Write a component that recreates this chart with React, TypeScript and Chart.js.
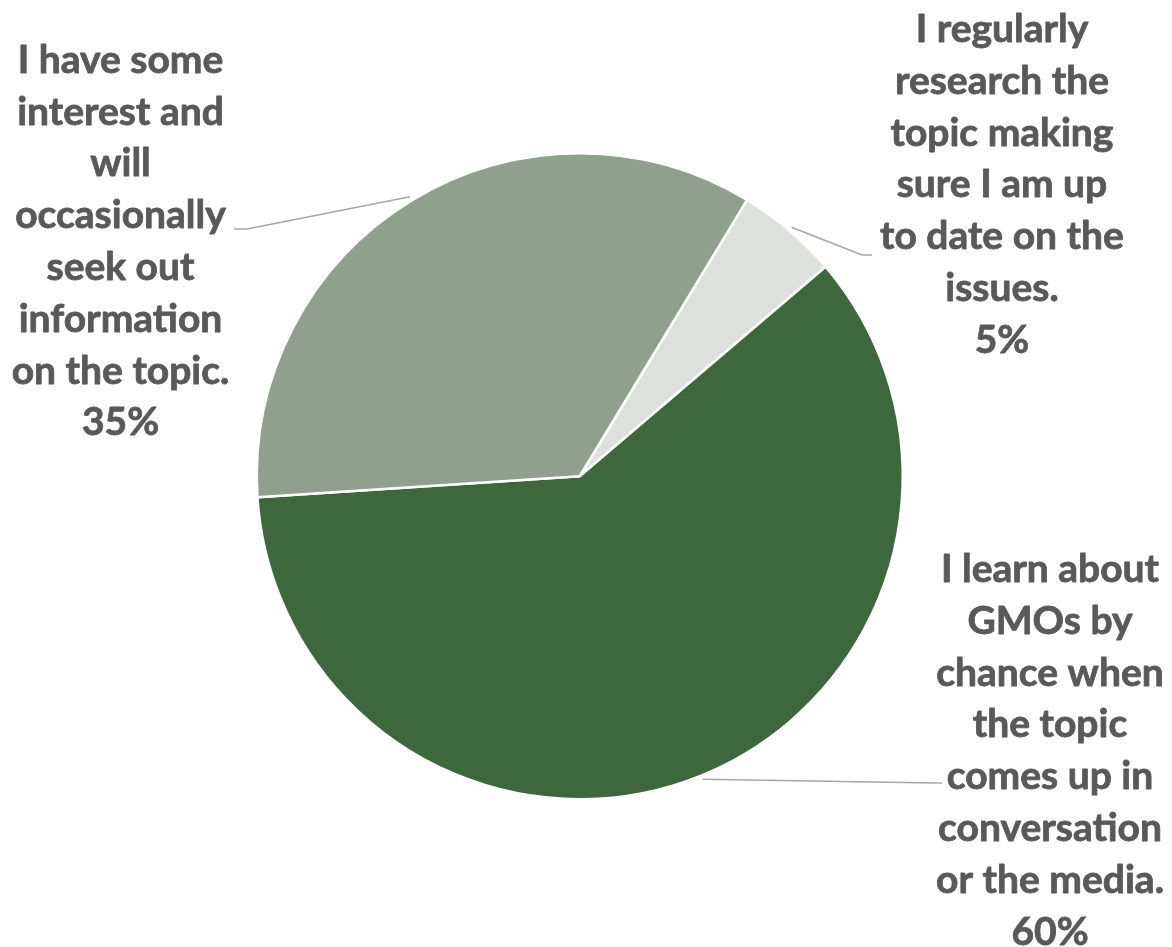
import React, { useEffect, useRef } from "react";
import { Chart, registerables } from "chart.js";

Chart.register(...registerables);

// ---- Data ----
const CATEGORIES = [
  "I regularly research the topic making sure I am up to date on the issues.",
  "I learn about GMOs by chance when the topic comes up in conversation or the media.",
  "I have some interest and will occasionally seek out information on the topic.",
];
const VALUES = [5.1, 60.2, 34.7];
const LABEL_LINES = [
  ["I regularly", "research the", "topic making", "sure I am up", "to date on the", "issues."],
  ["I learn about", "GMOs by", "chance when", "the topic", "comes up in", "conversation", "or the media."],
  ["I have some", "interest and", "will", "occasionally", "seek out", "information", "on the topic."],
];
const COLORS = ["#DCE1DB", "#3F673E", "#8FA08C"];

// ---- Layout (text placement, not data) ----
const LABEL_LAYOUT = [
  { cx: 1002, baseline: 42, elbow: [862, 255], end: [872, 255] },
  { cx: 1050, baseline: 582, elbow: [935, 783], end: [942, 783] },
  { cx: 120.5, baseline: 72.7, elbow: [247, 229], end: [234, 229] },
];
const LINE_HEIGHT = 51.8;
const FONT = "bold 39px Lato";
const TEXT_COLOR = "#595959";

const labelPlugin = {
  id: "outsideLabels",
  afterDatasetsDraw(chart: any) {
    const ctx = chart.ctx;
    const meta = chart.getDatasetMeta(0);
    const total = VALUES.reduce((a, b) => a + b, 0);
    ctx.save();
    meta.data.forEach((arc: any, i: number) => {
      const p = arc.getProps(["x", "y", "startAngle", "endAngle", "outerRadius"], true);
      const mid = (p.startAngle + p.endAngle) / 2;
      const r = p.outerRadius + 4;
      const sx = p.x + Math.cos(mid) * r;
      const sy = p.y + Math.sin(mid) * r;
      const L = LABEL_LAYOUT[i];
      ctx.strokeStyle = "#A6A6A6";
      ctx.lineWidth = 1.6;
      ctx.beginPath();
      ctx.moveTo(sx, sy);
      ctx.lineTo(L.elbow[0], L.elbow[1]);
      ctx.lineTo(L.end[0], L.end[1]);
      ctx.stroke();

      ctx.fillStyle = TEXT_COLOR;
      ctx.strokeStyle = TEXT_COLOR;
      ctx.lineWidth = 0.8;
      ctx.lineJoin = "round";
      ctx.font = FONT;
      ctx.textAlign = "center";
      ctx.textBaseline = "alphabetic";
      const lines = [...LABEL_LINES[i], Math.round((VALUES[i] / total) * 100) + "%"];
      lines.forEach((t, j) => {
        const y = L.baseline + j * LINE_HEIGHT;
        ctx.fillText(t, L.cx, y);
        ctx.strokeText(t, L.cx, y);
      });
    });
    ctx.restore();
  },
};

export default function App() {
  const ref = useRef<HTMLCanvasElement | null>(null);
  useEffect(() => {
    let chart: Chart | null = null;
    let cancelled = false;
    const make = () => {
      if (cancelled || !ref.current) return;
      chart = new Chart(ref.current, {
        type: "pie",
        data: {
          labels: CATEGORIES,
          datasets: [
            {
              data: VALUES,
              backgroundColor: COLORS,
              borderColor: "#FFFFFF",
              borderWidth: 2.5,
            },
          ],
        },
        options: {
          responsive: false,
          animation: false,
          events: [],
          rotation: 31.2,
          layout: { padding: { left: 255.5, right: 268, top: 152, bottom: 146.5 } },
          plugins: {
            legend: { display: false },
            tooltip: { enabled: false },
            title: { display: false },
          },
        },
        plugins: [labelPlugin],
      });
    };
    const fonts: any = (document as any).fonts;
    if (fonts && fonts.load) {
      fonts.load(FONT).then(make, make);
    } else {
      make();
    }
    return () => {
      cancelled = true;
      if (chart) chart.destroy();
    };
  }, []);
  return (
    <div style={{ position: "fixed", left: 0, top: 0, width: 1172, height: 947, background: "#FFFFFF" }}>
      <canvas ref={ref} width={1172} height={947} style={{ width: 1172, height: 947 }} />
    </div>
  );
}
